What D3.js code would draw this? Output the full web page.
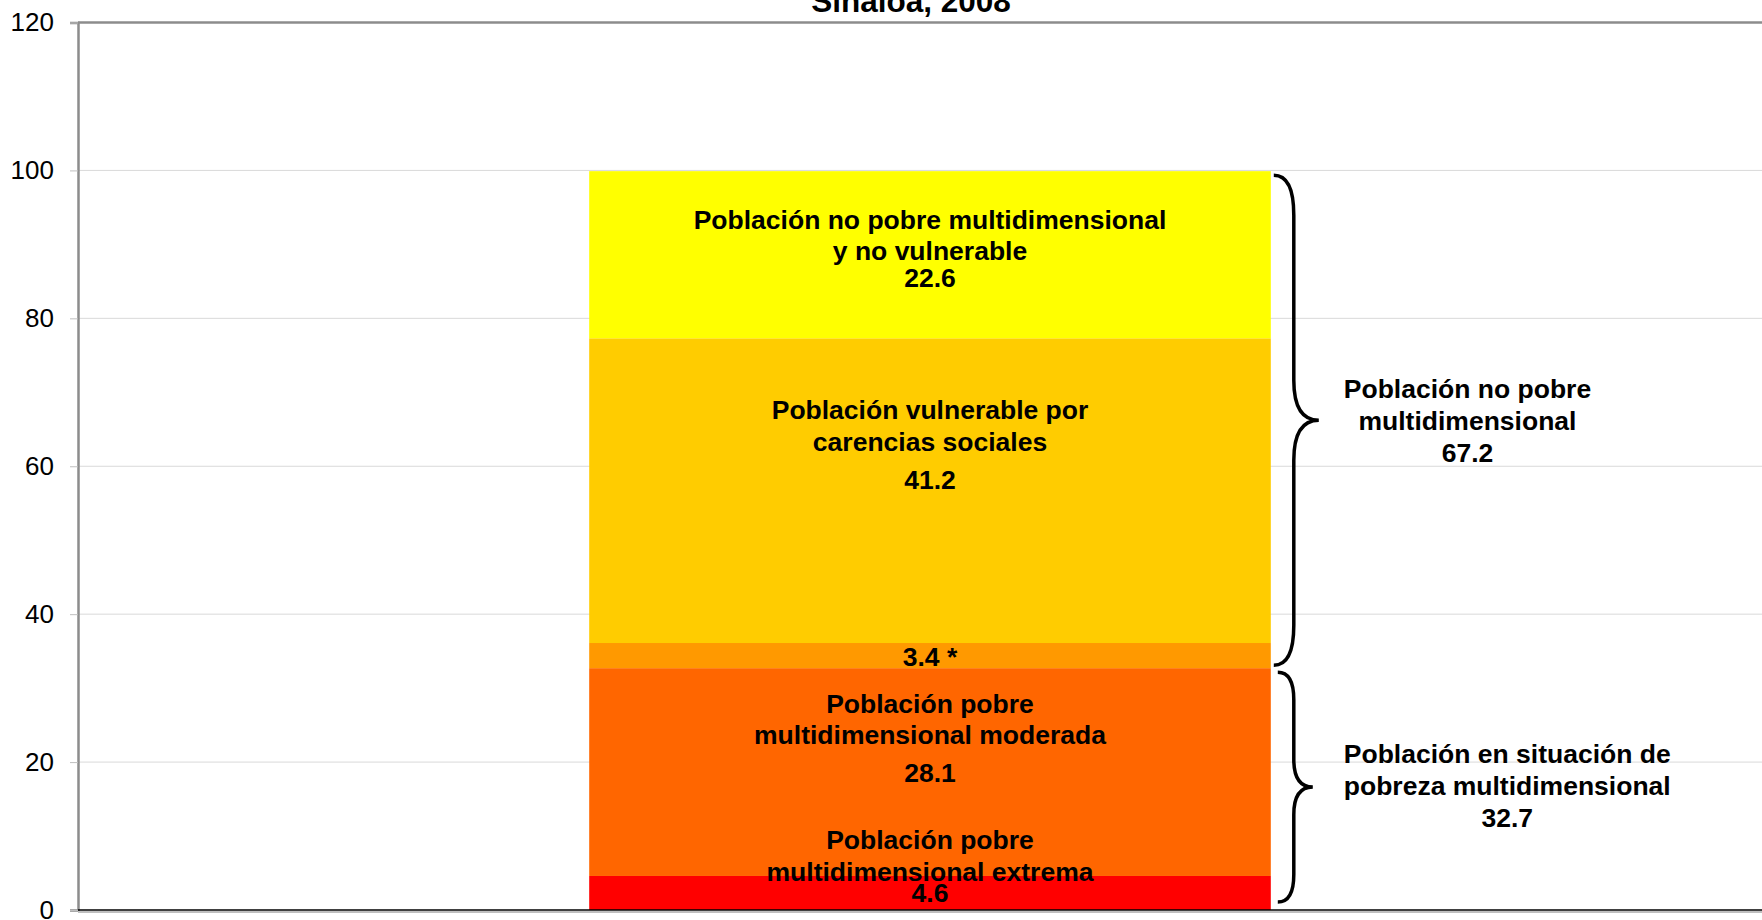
<!DOCTYPE html>
<html>
<head>
<meta charset="utf-8">
<script src="https://cdn.jsdelivr.net/npm/d3@7"></script>
<style>
  html, body { margin: 0; padding: 0; background: #fff; overflow: hidden; }
  text { font-family: "Liberation Sans", Arial, sans-serif; }
</style>
</head>
<body>
<svg id="chart" width="1762" height="920"></svg>
<script>
// data
const category = "Sinaloa, 2008";
const segmentNames = ["extrema", "moderada", "vulnerable_ingreso", "vulnerable_carencias", "no_pobre"];
const segmentValues = [4.6, 28.1, 3.4, 41.2, 22.6];
const segmentColors = ["#FF0000", "#FF6600", "#FF9900", "#FFCC00", "#FFFF00"];
const segmentLabels = [
  ["Población pobre", "multidimensional extrema", "4.6"],
  ["Población pobre", "multidimensional moderada", "28.1"],
  ["3.4 *"],
  ["Población vulnerable por", "carencias sociales", "41.2"],
  ["Población no pobre multidimensional", "y no vulnerable", "22.6"],
];
const groupLabels = [
  ["Población en situación de", "pobreza multidimensional", "32.7"],
  ["Población no pobre", "multidimensional", "67.2"],
];
// which stacked segments each brace spans
const groupSpans = [[0, 1], [2, 4]];
const yTicks = [0, 20, 40, 60, 80, 100, 120];

// layout: baseline offsets (px) from the middle of each segment / brace
const labelOffsets = [[-44, -12, 9], [-59, -28, 10], [10], [-72, -40, -2], [-26, 5, 32]];
const groupOffsets = [[-24, 8, 40], [-22, 10, 42]];

const svg = d3.select("#chart");
const plot = { left: 78, right: 1782, top: 22.5, bottom: 910 };

const x = d3.scaleBand().domain([category]).range([plot.left, plot.right]).paddingInner(0).paddingOuter(0.75);
const y = d3.scaleLinear().domain([0, 120]).range([plot.bottom, plot.top]);

// stacked segments
let acc = 0;
const stack = segmentValues.map((v, i) => {
  const s = { name: segmentNames[i], y0: acc, y1: acc + v, color: segmentColors[i], lines: segmentLabels[i], off: labelOffsets[i] };
  acc += v;
  return s;
});

// gridlines
svg.append("g")
  .selectAll("line")
  .data(yTicks.filter(d => d > 0 && d < 120))
  .join("line")
  .attr("x1", plot.left).attr("x2", plot.right)
  .attr("y1", d => y(d)).attr("y2", d => y(d))
  .attr("stroke", "#d9d9d9").attr("stroke-width", 1);

// top border of plot area
svg.append("line")
  .attr("x1", plot.left).attr("x2", plot.right)
  .attr("y1", y(120)).attr("y2", y(120))
  .attr("stroke", "#8c8c8c").attr("stroke-width", 2.5);

// bars
svg.append("g")
  .selectAll("rect")
  .data(stack)
  .join("rect")
  .attr("x", x(category))
  .attr("width", x.bandwidth())
  .attr("y", d => y(d.y1))
  .attr("height", d => y(d.y0) - y(d.y1))
  .attr("fill", d => d.color);

// y axis
const yAxis = svg.append("g")
  .attr("transform", `translate(${plot.left},0)`)
  .call(d3.axisLeft(y).tickValues(yTicks).tickSize(8).tickPadding(16));
yAxis.select(".domain").attr("stroke", "#8c8c8c").attr("stroke-width", 2.5);
yAxis.selectAll(".tick line").attr("stroke", "#bfbfbf");
yAxis.selectAll(".tick text")
  .attr("font-family", "Liberation Sans, Arial, sans-serif")
  .attr("font-size", 26)
  .attr("fill", "#000");

// x axis line
svg.append("line")
  .attr("x1", plot.left).attr("x2", plot.right)
  .attr("y1", y(0) + 2).attr("y2", y(0) + 2)
  .attr("stroke", "#bfbfbf").attr("stroke-width", 2);
svg.append("line")
  .attr("x1", plot.left).attr("x2", plot.right)
  .attr("y1", y(0)).attr("y2", y(0))
  .attr("stroke", "#000").attr("stroke-width", 1.5);

// segment labels
const cx = x(category) + x.bandwidth() / 2;
stack.forEach(s => {
  const mid = (y(s.y0) + y(s.y1)) / 2;
  const t = svg.append("text")
    .attr("text-anchor", "middle")
    .attr("font-size", 26.5)
    .attr("font-weight", "bold")
    .attr("fill", "#000");
  s.lines.forEach((ln, j) => {
    t.append("tspan").attr("x", cx).attr("y", mid + s.off[j]).text(ln);
  });
});

// curly braces + group labels
const barRight = x(category) + x.bandwidth();
groupSpans.forEach((span, i) => {
  const top = y(stack[span[1]].y1) + 4;
  const bot = y(stack[span[0]].y0) - (i === 0 ? 8 : 3);
  const mid = (top + bot) / 2;
  const h = bot - top;
  const r = Math.min(40, h * 0.12);
  const x0 = barRight + (i === 0 ? 7 : 3);
  const xv = barRight + 23;
  const xt = xv + (i === 0 ? 19 : 25);

  const p = d3.path();
  p.moveTo(x0, top);
  p.quadraticCurveTo(xv, top, xv, top + r);
  p.lineTo(xv, mid - r);
  p.quadraticCurveTo(xv, mid, xt, mid);
  p.quadraticCurveTo(xv, mid, xv, mid + r);
  p.lineTo(xv, bot - r);
  p.quadraticCurveTo(xv, bot, x0, bot);

  svg.append("path")
    .attr("d", p.toString())
    .attr("fill", "none")
    .attr("stroke", "#000")
    .attr("stroke-width", 3.5);

  const t = svg.append("text")
    .attr("text-anchor", "middle")
    .attr("font-size", 26.5)
    .attr("font-weight", "bold")
    .attr("fill", "#000");
  const spans = groupLabels[i].map((ln, j) =>
    t.append("tspan").attr("y", mid + groupOffsets[i][j]).text(ln));
  const maxW = d3.max(spans, s => s.node().getComputedTextLength());
  const left = barRight + 73;
  spans.forEach(s => s.attr("x", left + maxW / 2));
});

// title (only its last line shows in the frame)
svg.append("text")
  .attr("x", 911)
  .attr("y", 12)
  .attr("text-anchor", "middle")
  .attr("font-size", 31.5)
  .attr("font-weight", "bold")
  .text(category);
</script>
</body>
</html>
